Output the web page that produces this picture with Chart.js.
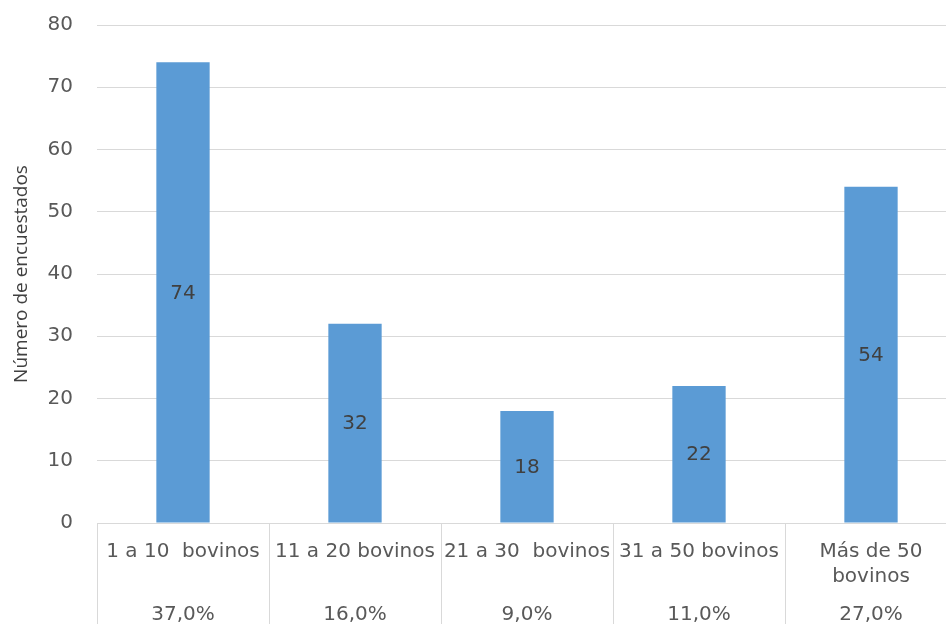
<!DOCTYPE html>
<html>
<head>
<meta charset="utf-8">
<script src="https://cdn.jsdelivr.net/npm/chart.js@4/dist/chart.umd.min.js"></script>
<style>
  html, body { margin: 0; padding: 0; background: #fff; overflow: hidden; }
  /* el área de trazado sigue un poco más allá del borde derecho */
  #wrap { width: 957px; height: 624px; }
</style>
</head>
<body>
<div id="wrap"><canvas id="bovinosChart"></canvas></div>
<script>
const categorias = [['1 a 10  bovinos'], ['11 a 20 bovinos'], ['21 a 30  bovinos'], ['31 a 50 bovinos'], ['Más de 50', 'bovinos']];
const encuestados = [74, 32, 18, 22, 54];
const porcentajes = ['37,0%', '16,0%', '9,0%', '11,0%', '27,0%'];
const ticksY = [0, 10, 20, 30, 40, 50, 60, 70, 80];

const FUENTE = '"DejaVu Sans", sans-serif';
const FUENTE_TITULO = '"Open Sans", sans-serif';

// valores dentro de cada barra + filas de la tabla bajo el eje
const tablaEje = {
    id: 'tablaEje',
    afterDatasetsDraw(chart) {
        const ctx = chart.ctx;
        const meta = chart.getDatasetMeta(0);
        ctx.save();
        ctx.font = '20px ' + FUENTE;
        ctx.fillStyle = '#404040';
        ctx.textAlign = 'center';
        ctx.textBaseline = 'middle';
        meta.data.forEach((bar, i) => {
            ctx.fillText(String(encuestados[i]), bar.x, (bar.y + bar.base) / 2 + 1);
        });
        ctx.restore();
    },
    afterDraw(chart) {
        const ctx = chart.ctx;
        const x = chart.scales.x;
        const base = chart.chartArea.bottom;
        ctx.save();
        ctx.font = '20px ' + FUENTE;
        ctx.fillStyle = '#595959';
        ctx.textAlign = 'center';
        ctx.textBaseline = 'middle';
        categorias.forEach((lineas, i) => {
            const cx = x.getPixelForValue(i);
            lineas.forEach((t, j) => ctx.fillText(t, cx, base + 29 + j * 25));
            ctx.fillText(porcentajes[i], cx, base + 92);
        });
        ctx.restore();
    }
};

const ctx = document.getElementById('bovinosChart').getContext('2d');
new Chart(ctx, {
    type: 'bar',
    data: {
        labels: categorias.map(l => l.join(' ')),
        datasets: [{
            label: 'Número de encuestados',
            data: encuestados,
            backgroundColor: '#5B9BD5',
            barPercentage: 0.31,
            categoryPercentage: 1,
        }],
    },
    options: {
        responsive: true,
        maintainAspectRatio: false,
        animation: false,
        layout: { padding: { top: 25, right: 0, left: 0, bottom: 0 } },
        plugins: {
            legend: { display: false },
            tooltip: { enabled: false },
        },
        scales: {
            x: {
                offset: true,
                grid: {
                    offset: true,
                    drawOnChartArea: false,
                    drawTicks: true,
                    tickLength: 101,
                    color: '#d9d9d9',
                },
                border: { display: true, color: '#d9d9d9' },
                ticks: { display: false },
                afterFit(scale) { scale.height = 101; },
            },
            y: {
                min: 0,
                max: 80,
                afterBuildTicks(scale) { scale.ticks = ticksY.map(v => ({ value: v })); },
                // marcas invisibles: solo separan las etiquetas del área
                grid: { color: '#d9d9d9', drawTicks: true, tickLength: 24, tickColor: 'rgba(0,0,0,0)' },
                border: { display: false },
                ticks: {
                    padding: 0,
                    color: '#595959',
                    font: { family: FUENTE, size: 20 },
                },
                title: {
                    display: true,
                    text: 'Número de encuestados',
                    color: '#404040',
                    font: { family: FUENTE_TITULO, size: 19 },
                    padding: { top: 10, bottom: 0 },
                },
                afterFit(scale) { scale.width = 97; },
            },
        },
    },
    plugins: [tablaEje],
});
</script>
</body>
</html>
